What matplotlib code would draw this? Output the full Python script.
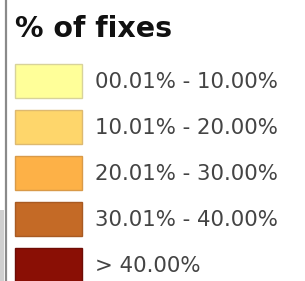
import matplotlib as mpl
mpl.use('Agg')
import matplotlib.pyplot as plt

# legend content
title = '% of fixes'
labels = ['00.01% - 10.00%', '10.01% - 20.00%', '20.01% - 30.00%',
          '30.01% - 40.00%', '> 40.00%']
colors = ['#FFFF99', '#FED66B', '#FDB147', '#C46A26', '#8A0F05']
edges = ['#D8D39A', '#DDB970', '#D99A48', '#A85A22', '#6E0C05']

W, H = 305, 281
fig = plt.figure(figsize=(W / 100, H / 100), dpi=100)
ax = fig.add_axes([0, 0, 1, 1])
ax.set_xlim(0, W)
ax.set_ylim(H, 0)
ax.axis('off')

# left frame edge
ax.axvline(6, color='#8a8a8a', lw=1.6)
ax.bar(2, H - 210, width=4, bottom=210, color='#cfcfcf', lw=0)

ax.text(15, 37, title, fontsize=20.5, fontweight='bold', family='DejaVu Sans',
        color='#111111', va='baseline', ha='left')

row0, step = 81, 46
for i, (lab, c, e) in enumerate(zip(labels, colors, edges)):
    yc = row0 + step * i
    ax.barh(yc, 67, left=15, height=34, color=c, edgecolor=e, lw=1)
    ax.text(95, yc + 1.5, lab, fontsize=15.3, family='DejaVu Sans',
            color='#444444', va='center', ha='left')

plt.savefig('out.png', dpi=100)
plt.close(fig)
